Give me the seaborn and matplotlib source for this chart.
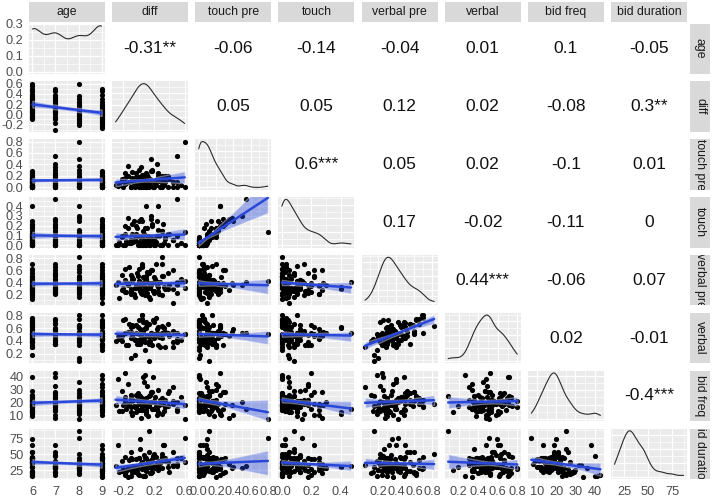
import numpy as np
import matplotlib
matplotlib.use("Agg")
import matplotlib.pyplot as plt
from matplotlib.collections import PolyCollection
from matplotlib.patches import Rectangle
from matplotlib.ticker import MaxNLocator
import seaborn as sns

# variables in the order of the pairs matrix
names = ["age", "diff", "touch pre", "touch", "verbal pre", "verbal",
         "bid freq", "bid duration"]

# observations estimated from the scatter panels (one entry per child)
age = [6, 6, 6, 6, 6, 6, 6, 6, 6, 6, 6, 6, 6, 6, 6, 6, 6, 6, 6, 6, 6, 6, 6, 6, 6, 6,
       7, 7, 7, 7, 7, 7, 7, 7, 7, 7, 7, 7, 7, 7, 7, 7, 7, 7, 7, 7, 7, 7,
       8, 8, 8, 8, 8, 8, 8, 8, 8, 8, 8, 8, 8, 8, 8, 8, 8, 8, 8, 8,
       9, 9, 9, 9, 9, 9, 9, 9, 9, 9, 9, 9, 9, 9, 9, 9, 9, 9, 9, 9, 9, 9, 9, 9, 9, 9, 9, 9]

diff = [0.6, 0.55, 0.5, 0.45, 0.4, 0.35, 0.32, 0.3, 0.28, 0.25, 0.22, 0.2, 0.18,
        0.15, 0.14, 0.12, 0.1, 0.08, 0.06, 0.05, 0.02, 0.0, -0.03, -0.05, -0.08, -0.1,
        0.5, 0.45, 0.38, 0.33, 0.3, 0.27, 0.24, 0.21, 0.19, 0.17, 0.15,
        0.13, 0.11, 0.09, 0.07, 0.05, 0.03, 0.0, -0.05, -0.1, -0.18, -0.3,
        0.6, 0.35, 0.3, 0.25, 0.2, 0.16, 0.13, 0.11, 0.09, 0.07,
        0.05, 0.03, 0.01, -0.01, -0.04, -0.07, -0.1, -0.14, -0.18, -0.22,
        0.5, 0.45, 0.38, 0.3, 0.24, 0.2, 0.16, 0.13, 0.1, 0.08, 0.06, 0.04, 0.02, 0.01,
        0.0, -0.02, -0.04, -0.06, -0.08, -0.1, -0.12, -0.14, -0.16, -0.18, -0.2,
        -0.22, -0.25, -0.27]

touch_pre = [0.0, 0.05, 0.1, 0.0, 0.15, 0.2, 0.08, 0.12, 0.0, 0.25, 0.05, 0.1, 0.28,
             0.03, 0.0, 0.18, 0.07, 0.14, 0.0, 0.22, 0.1, 0.05, 0.12, 0.02, 0.16, 0.0,
             0.55, 0.1, 0.0, 0.05, 0.2, 0.12, 0.4, 0.08, 0.0, 0.3, 0.15,
             0.03, 0.22, 0.0, 0.1, 0.06, 0.35, 0.18, 0.0, 0.12, 0.25, 0.05,
             0.8, 0.1, 0.0, 0.2, 0.05, 0.5, 0.12, 0.0, 0.25, 0.08,
             0.15, 0.0, 0.3, 0.03, 0.18, 0.1, 0.0, 0.38, 0.06, 0.14,
             0.0, 0.1, 0.2, 0.05, 0.15, 0.0, 0.28, 0.08, 0.12, 0.0, 0.22, 0.04, 0.1, 0.18,
             0.0, 0.06, 0.25, 0.14, 0.26, 0.0, 0.1, 0.2, 0.07, 0.16, 0.0, 0.12, 0.05, 0.02]

touch = [0.0, 0.02, 0.1, 0.05, 0.12, 0.08, 0.22, 0.15, 0.0, 0.4, 0.03, 0.06, 0.2,
         0.0, 0.08, 0.1, 0.05, 0.18, 0.0, 0.25, 0.02, 0.0, 0.1, 0.04, 0.12, 0.02,
         0.47, 0.05, 0.0, 0.02, 0.15, 0.1, 0.25, 0.0, 0.04, 0.22, 0.08,
         0.0, 0.18, 0.0, 0.12, 0.03, 0.27, 0.1, 0.06, 0.05, 0.2, 0.0,
         0.14, 0.06, 0.0, 0.16, 0.0, 0.3, 0.08, 0.02, 0.4, 0.05,
         0.1, 0.0, 0.25, 0.0, 0.12, 0.03, 0.05, 0.28, 0.0, 0.1,
         0.0, 0.05, 0.12, 0.0, 0.1, 0.02, 0.27, 0.04, 0.06, 0.0, 0.15, 0.0, 0.08, 0.1,
         0.03, 0.18, 0.2, 0.25, 0.22, 0.05, 0.02, 0.18, 0.04, 0.12, 0.0, 0.08, 0.03, 0.0]

verbal_pre = [0.3, 0.45, 0.22, 0.6, 0.35, 0.28, 0.5, 0.18, 0.4, 0.32, 0.7, 0.25, 0.38,
              0.12, 0.55, 0.3, 0.42, 0.27, 0.48, 0.2, 0.35, 0.62, 0.33, 0.15, 0.44, 0.26,
              0.4, 0.28, 0.55, 0.32, 0.7, 0.2, 0.36, 0.46, 0.25, 0.6, 0.3,
              0.38, 0.22, 0.5, 0.34, 0.65, 0.27, 0.42, 0.3, 0.52, 0.24, 0.35,
              0.42, 0.3, 0.82, 0.25, 0.48, 0.35, 0.15, 0.58, 0.28, 0.4,
              0.68, 0.22, 0.33, 0.5, 0.3, 0.45, 0.2, 0.38, 0.62, 0.27,
              0.35, 0.05, 0.28, 0.5, 0.4, 0.22, 0.6, 0.32, 0.45, 0.18, 0.38, 0.7, 0.26, 0.42,
              0.3, 0.55, 0.34, 0.2, 0.48, 0.29, 0.65, 0.36, 0.24, 0.44, 0.31, 0.52, 0.14, 0.4]

verbal = [0.5, 0.42, 0.38, 0.56, 0.47, 0.3, 0.62, 0.5, 0.3, 0.61, 0.75, 0.5, 0.33,
          0.4, 0.66, 0.38, 0.69, 0.39, 0.7, 0.45, 0.59, 0.72, 0.53, 0.19, 0.65, 0.44,
          0.52, 0.38, 0.66, 0.6, 0.52, 0.46, 0.58, 0.49, 0.72, 0.5, 0.35,
          0.36, 0.49, 0.68, 0.58, 0.74, 0.48, 0.36, 0.42, 0.54, 0.52, 0.4,
          0.51, 0.54, 0.63, 0.33, 0.44, 0.52, 0.09, 0.64, 0.6, 0.45,
          0.8, 0.38, 0.5, 0.62, 0.42, 0.63, 0.14, 0.54, 0.74, 0.4,
          0.43, 0.3, 0.53, 0.44, 0.53, 0.7, 0.52, 0.46, 0.62, 0.26, 0.55, 0.8, 0.36, 0.42,
          0.5, 0.36, 0.64, 0.43, 0.48, 0.61, 0.66, 0.34, 0.33, 0.53, 0.72, 0.47, 0.43, 0.48]

bid_freq = [18, 24, 13, 21, 29, 16, 19, 11, 22, 12, 17, 20,
            15, 26, 19, 9, 23, 18, 40, 14, 20, 25, 12, 17,
            21, 16, 15, 19, 27, 13, 22, 18, 10, 24, 40, 28,
            20, 17, 33, 14, 19, 23, 8, 21, 16, 26, 43, 18,
            7, 22, 19, 30, 15, 20, 25, 17, 11, 36, 21, 14,
            19, 27, 16, 22, 12, 18, 24, 13, 20, 32, 17, 23,
            15, 21, 28, 18, 12, 41, 19, 16, 25, 20, 14, 22,
            26, 17, 10, 23, 19, 34, 15, 21, 18, 29, 13, 38]

bid_duration = [38, 45, 45, 54, 23, 44, 64, 39, 36, 31, 46, 32, 42, 21, 53, 40, 24,
                45, 16, 38, 74, 17, 43, 31, 23, 44,
                32, 32, 38, 64, 28, 39, 30, 29, 48, 22, 37, 31, 33, 29, 49, 28, 35,
                34, 22, 53, 18, 32,
                75, 39, 50, 25, 32, 28, 87, 34, 30, 29, 27, 37, 45, 20, 32, 32, 26,
                28, 21, 39,
                35, 34, 30, 46, 36, 51, 21, 36, 45, 16, 36, 29, 58, 30, 45, 24, 27,
                25, 43, 16, 41, 15, 24, 46, 27, 24, 22, 64]

columns = [age, diff, touch_pre, touch, verbal_pre, verbal, bid_freq, bid_duration]

# correlation labels printed in the upper triangle, row by row
cor_text = [
    ["-0.31**", "-0.06", "-0.14", "-0.04", "0.01", "0.1", "-0.05"],
    ["0.05", "0.05", "0.12", "0.02", "-0.08", "0.3**"],
    ["0.6***", "0.05", "0.02", "-0.1", "0.01"],
    ["0.17", "-0.02", "-0.11", "0"],
    ["0.44***", "-0.06", "0.07"],
    ["0.02", "-0.01"],
    ["-0.4***"],
]

# axis breaks shown on the outer axes
x_breaks = [[6, 7, 8, 9], [-0.2, 0.2, 0.6], [0.0, 0.2, 0.4, 0.6, 0.8],
            [0.0, 0.2, 0.4], [0.2, 0.4, 0.6, 0.8], [0.2, 0.4, 0.6, 0.8],
            [10, 20, 30, 40], [25, 50, 75]]
y_breaks = [[0.0, 0.1, 0.2, 0.3], [-0.2, 0.0, 0.2, 0.4, 0.6],
            [0.0, 0.2, 0.4, 0.6, 0.8], [0.0, 0.1, 0.2, 0.3, 0.4],
            [0.2, 0.4, 0.6, 0.8], [0.2, 0.4, 0.6, 0.8],
            [10, 20, 30, 40], [25, 50, 75]]

PANEL = "#EBEBEB"
STRIP = "#D9D9D9"
BLUE = "#2A48D8"
TICK_SIZE = 9.2
STRIP_SIZE = 8.8

sns.set_style("darkgrid", {"axes.facecolor": PANEL, "grid.color": "white"})
plt.rcParams["font.family"] = ["Liberation Sans", "DejaVu Sans"]
plt.rcParams["axes.unicode_minus"] = False


def padded(vals):
    lo, hi = min(vals), max(vals)
    pad = 0.05 * (hi - lo)
    return lo - pad, hi + pad


def minor_breaks(breaks, lo, hi):
    step = breaks[1] - breaks[0]
    m = breaks[0] - step / 2
    while m - step >= lo:
        m -= step
    out = []
    while m <= hi:
        if m >= lo:
            out.append(m)
        m += step
    return out


def labels_for(breaks):
    dec = 0 if all(float(b).is_integer() for b in breaks) else 1
    return [f"{b:.{dec}f}" for b in breaks]


def nrd0(vals):
    v = np.asarray(vals, dtype=float)
    sd = v.std(ddof=1)
    q1, q3 = np.percentile(v, [25, 75])
    bw = 0.9 * min(sd, (q3 - q1) / 1.34) * len(v) ** -0.2
    return bw / sd


n = len(names)
fig, axes = plt.subplots(n, n, figsize=(7.12, 5.04), dpi=100)
fig.subplots_adjust(left=29 / 712, right=687 / 712, top=1 - 23.5 / 504,
                    bottom=1 - 479 / 504, wspace=0.094, hspace=0.146)

for i in range(n):
    for j in range(n):
        ax = axes[i, j]
        for s in ax.spines.values():
            s.set_visible(False)
        ax.tick_params(which="both", length=0, labelleft=False, labelbottom=False)

        if j > i:
            # correlation text panel
            ax.set_facecolor("white")
            ax.grid(False)
            ax.set_xticks([])
            ax.set_yticks([])
            ax.text(0.5, 0.5, cor_text[i][j - i - 1], transform=ax.transAxes,
                    ha="center", va="center", fontsize=12.5, color="#111111")
            continue

        xlo, xhi = padded(columns[j])
        if i == j:
            sns.kdeplot(x=columns[j], ax=ax, bw_method=nrd0(columns[j]), cut=0,
                        color="#2b2b2b", linewidth=0.8)
            ymax = ax.lines[-1].get_ydata().max()
            ylo, yhi = -0.05 * ymax, 1.05 * ymax
            if i == 0:
                yb = y_breaks[0]
            else:
                yb = [t for t in MaxNLocator(4).tick_values(0, ymax) if ylo <= t <= yhi]
        else:
            sns.regplot(x=columns[j], y=columns[i], ax=ax, color=BLUE, ci=95,
                        seed=3, truncate=True,
                        scatter_kws=dict(s=14, color="black", linewidths=0, alpha=1),
                        line_kws=dict(linewidth=1.8))
            for c in ax.collections:
                if isinstance(c, PolyCollection):
                    c.set_alpha(0.4)
            ylo, yhi = padded(columns[i])
            yb = y_breaks[i]

        ax.set_xlim(xlo, xhi)
        ax.set_ylim(ylo, yhi)
        ax.set_xlabel("")
        ax.set_ylabel("")
        ax.set_xticks(x_breaks[j])
        ax.set_xticks(minor_breaks(x_breaks[j], xlo, xhi), minor=True)
        ax.set_yticks(yb)
        ax.set_yticks(minor_breaks(yb, ylo, yhi), minor=True)
        ax.grid(True, which="major", color="white", linewidth=0.9)
        ax.grid(True, which="minor", color="white", linewidth=0.45)
        ax.set_axisbelow(True)

        if j == 0:
            ax.set_yticklabels(labels_for(yb))
            ax.tick_params(axis="y", which="major", length=2.75, width=0.6,
                           color="#333333", labelleft=True, labelsize=TICK_SIZE,
                           labelcolor="#4D4D4D", pad=1.2)
        if i == n - 1:
            ax.set_xticklabels(labels_for(x_breaks[j]))
            ax.tick_params(axis="x", which="major", length=2.75, width=0.6,
                           color="#333333", labelbottom=True, labelsize=TICK_SIZE,
                           labelcolor="#4D4D4D", pad=2.5)

# facet strips: top row and right column
for j in range(n):
    pos = axes[0, j].get_position()
    rect = Rectangle((pos.x0, 1 - 22 / 504), pos.width, 20 / 504,
                     transform=fig.transFigure, facecolor=STRIP, edgecolor="none")
    fig.add_artist(rect)
    t = fig.text(pos.x0 + pos.width / 2, 1 - 12 / 504, names[j], ha="center",
                 va="center", fontsize=STRIP_SIZE, color="#1A1A1A")
    t.set_clip_path(rect)

for i in range(n):
    pos = axes[i, -1].get_position()
    rect = Rectangle((690 / 712, pos.y0), 20 / 712, pos.height,
                     transform=fig.transFigure, facecolor=STRIP, edgecolor="none")
    fig.add_artist(rect)
    t = fig.text(700 / 712, pos.y0 + pos.height / 2, names[i], rotation=-90,
                 ha="center", va="center", fontsize=STRIP_SIZE, color="#1A1A1A")
    t.set_clip_path(rect)

fig.savefig("out.png", dpi=100, facecolor="white")
